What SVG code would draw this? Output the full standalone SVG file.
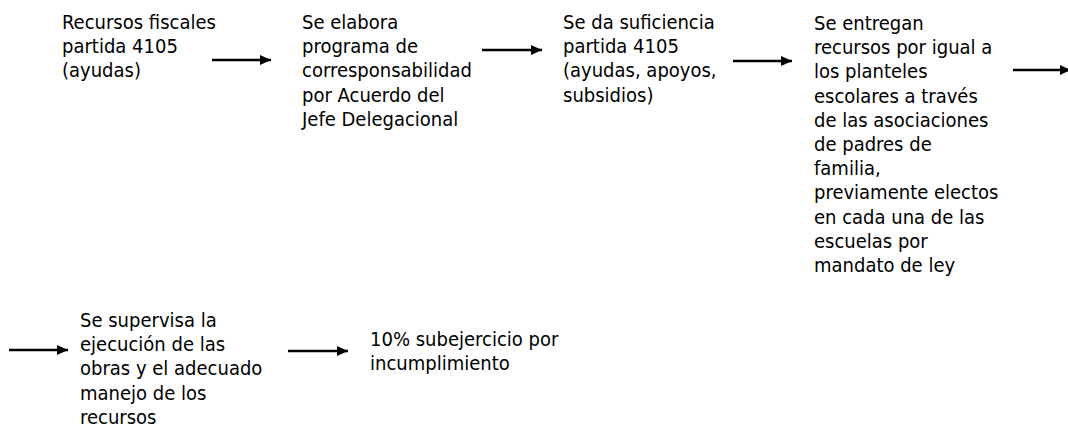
<svg xmlns="http://www.w3.org/2000/svg" width="1068" height="429" viewBox="0 0 1068 429">
<style>
.t{font-family:"DejaVu Sans Condensed","DejaVu Sans",sans-serif;font-stretch:condensed;font-size:20px;fill:#000}
.c{stroke:#000;stroke-width:2.6;fill:none;marker-end:url(#ah)}
</style>
<defs>
<marker id="ah" markerUnits="userSpaceOnUse" markerWidth="12" markerHeight="12" viewBox="0 0 12 12" refX="11" refY="6" orient="auto">
<path d="M0,1 L11,6 L0,11 Z" fill="#000"/>
</marker>
</defs>
<rect width="1068" height="429" fill="#fff"/>
<g id="connectors">
<line class="c" x1="212" y1="60" x2="271" y2="60"/>
<line class="c" x1="482" y1="50" x2="542" y2="50"/>
<line class="c" x1="733" y1="61" x2="792" y2="61"/>
<line class="c" x1="1013" y1="70" x2="1071" y2="70"/>
<line class="c" x1="9" y1="350" x2="68" y2="350"/>
<line class="c" x1="288" y1="351" x2="348" y2="351"/>
</g>
<g id="n1"><text class="t" x="62" y="29"><tspan x="62">Recursos fiscales</tspan><tspan x="62" dy="24.2">partida 4105</tspan><tspan x="62" dy="24.2">(ayudas)</tspan></text></g>
<g id="n2"><text class="t" x="302" y="29"><tspan x="302">Se elabora</tspan><tspan x="302" dy="24.2">programa de</tspan><tspan x="302" dy="24.2">corresponsabilidad</tspan><tspan x="302" dy="24.2">por Acuerdo del</tspan><tspan x="302" dy="24.2">Jefe Delegacional</tspan></text></g>
<g id="n3"><text class="t" x="563" y="29"><tspan x="563">Se da suficiencia</tspan><tspan x="563" dy="24.2">partida 4105</tspan><tspan x="563" dy="24.2">(ayudas, apoyos,</tspan><tspan x="563" dy="24.2">subsidios)</tspan></text></g>
<g id="n4"><text class="t" x="814" y="30"><tspan x="814">Se entregan</tspan><tspan x="814" dy="24.2">recursos por igual a</tspan><tspan x="814" dy="24.2">los planteles</tspan><tspan x="814" dy="24.2">escolares a través</tspan><tspan x="814" dy="24.2">de las asociaciones</tspan><tspan x="814" dy="24.2">de padres de</tspan><tspan x="814" dy="24.2">familia,</tspan><tspan x="814" dy="24.2">previamente electos</tspan><tspan x="814" dy="24.2">en cada una de las</tspan><tspan x="814" dy="24.2">escuelas por</tspan><tspan x="814" dy="24.2">mandato de ley</tspan></text></g>
<g id="n5"><text class="t" x="80" y="327"><tspan x="80">Se supervisa la</tspan><tspan x="80" dy="24.2">ejecución de las</tspan><tspan x="80" dy="24.2">obras y el adecuado</tspan><tspan x="80" dy="24.2">manejo de los</tspan><tspan x="80" dy="24.2">recursos</tspan></text></g>
<g id="n6"><text class="t" x="370" y="346"><tspan x="370">10% subejercicio por</tspan><tspan x="370" dy="24.2">incumplimiento</tspan></text></g>
</svg>
